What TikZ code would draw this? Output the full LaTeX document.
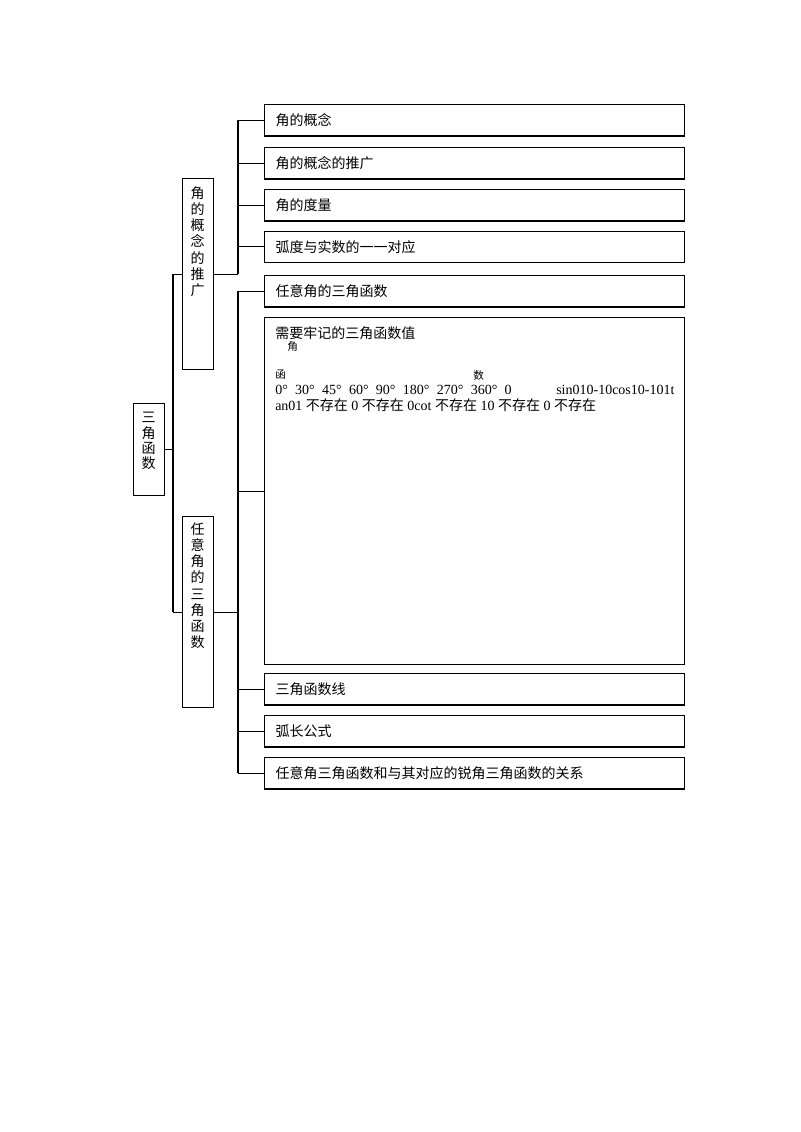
\documentclass[tikz,border=0pt]{standalone}
\usepackage{fontspec}
\setmainfont{Liberation Serif}
\newfontfamily\cjk{Noto Sans CJK SC}
\newcommand{\zh}[1]{{\cjk #1}}
\newcommand{\gp}{\hspace{5.5pt}}
\begin{document}
\begin{tikzpicture}[x=0.75pt,y=-0.75pt,
  every node/.style={inner sep=0pt},
  box/.style={draw, line width=0.9pt},
  leaf/.style={box, anchor=north west, minimum width=315pt, minimum height=23.6pt,
    text width=298.5pt, inner xsep=8.25pt, inner ysep=0pt, align=left,
    font=\cjk\fontsize{10.5}{12}\selectfont},
  vbox/.style={box, anchor=north west, minimum width=23.25pt},
  vtext/.style={anchor=north, align=center, font=\cjk\fontsize{10.5}{12.2}\selectfont},
  conn/.style={line width=0.9pt},
  txt/.style={anchor=north west, font=\cjk\fontsize{10.5}{12}\selectfont},
  small/.style={anchor=north west, font=\cjk\fontsize{8}{9}\selectfont},
  lat/.style={anchor=base west, font=\fontsize{10.5}{12}\selectfont}]
\useasboundingbox (0,0) rectangle (800,1132);

% root and branches
\node[vbox, minimum height=69pt] (root) at (133,403) {};
\node[vtext, font=\cjk\fontsize{10.5}{11.5}\selectfont] (roott) at (148.5,412) {三\\角\\函\\数};
\node[vbox, minimum height=143.25pt] (b1) at (182,178) {};
\node[vtext] (b1t) at (197.5,186) {角\\的\\概\\念\\的\\推\\广};
\node[vbox, minimum height=143.25pt] (b2) at (182,516) {};
\node[vtext] (b2t) at (197.5,522) {任\\意\\角\\的\\三\\角\\函\\数};

% leaves
\node[leaf] (l1) at (264,104) {角的概念};
\node[leaf] (l2) at (264,147) {角的概念的推广};
\node[leaf] (l3) at (264,189) {角的度量};
\node[leaf] (l4) at (264,230.5) {弧度与实数的一一对应};
\node[leaf] (l5) at (264,275) {任意角的三角函数};
\node[box, anchor=north west, minimum width=315pt, minimum height=260.25pt] (l6) at (264,317) {};
\node[leaf] (l7) at (264,673) {三角函数线};
\node[leaf] (l8) at (264,715) {弧长公式};
\node[leaf] (l9) at (264,757) {任意角三角函数和与其对应的锐角三角函数的关系};

% big box content
\node[txt] (t1) at (275,326) {需要牢记的三角函数值};
\node[small] (t2) at (287,341) {角};
\node[small] (t3) at (275,370) {函};
\node[small] (t4) at (473,370) {数};
\node[lat] (t5) at (275,394) {0°\gp30°\gp45°\gp60°\gp90°\gp180°\gp270°\gp360°\gp0};
\node[lat] (t6) at (556,394) {sin010-10cos10-101t};
\node[lat] (t7) at (275,410) {an01 \zh{不存在} 0 \zh{不存在} 0cot \zh{不存在} 10 \zh{不存在} 0 \zh{不存在}};

% connectors root
\coordinate (j0) at (173,449);
\coordinate (j1) at (238,0);
\draw[conn] (root.east) -- (j0 |- root.east);
\draw[conn] (j0 |- b1.west) -- (j0 |- b2.west);
\draw[conn] (j0 |- b1.west) -- (b1.west);
\draw[conn] (j0 |- b2.west) -- (b2.west);

% branch 1
\draw[conn] (b1.east) -- (j1 |- b1.east);
\draw[conn] (j1 |- l1.west) -- (j1 |- b1.east);
\foreach \n in {l1,l2,l3,l4} \draw[conn] (j1 |- \n.west) -- (\n.west);

% branch 2
\draw[conn] (b2.east) -- (j1 |- b2.east);
\draw[conn] (j1 |- l5.west) -- (j1 |- l9.west);
\foreach \n in {l5,l6,l7,l8,l9} \draw[conn] (j1 |- \n.west) -- (\n.west);
\end{tikzpicture}
\end{document}
